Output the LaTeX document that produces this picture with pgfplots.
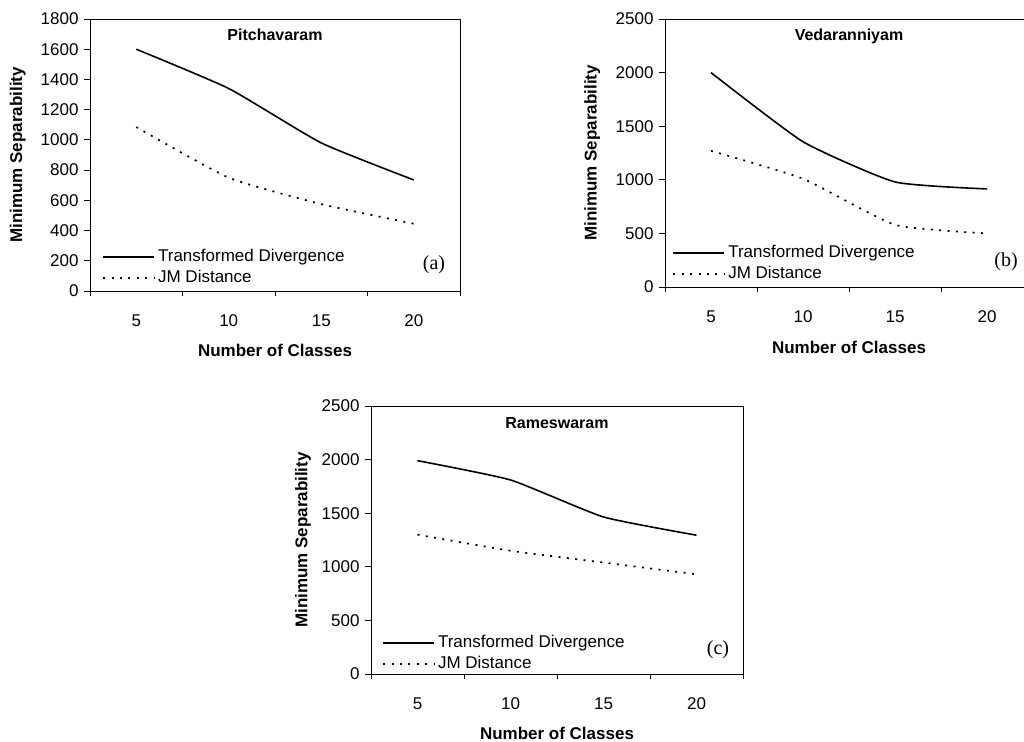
\documentclass[border=0pt]{standalone}
\usepackage{fontspec}
\setmainfont{Liberation Sans}
\newfontfamily\seriffont{Liberation Serif}
\usepackage{pgfplots}
\pgfplotsset{compat=1.18}

\pgfplotsset{
  sepstyle/.style={
    scale only axis,
    anchor=south west,
    xmin=2.5, xmax=22.5,
    xtick={5,10,15,20},
    minor xtick={2.5,7.5,12.5,17.5,22.5},
    major x tick style={draw=none},
    minor x tick style={black, line width=1pt},
    minor tick length=5pt,
    major tick length=6pt,
    ymin=0,
    tick align=outside,
    tick pos=left,
    axis line style={line width=1pt},
    every tick/.style={black, line width=1pt},
    tick label style={font=\fontsize{17}{20}\selectfont},
    yticklabel style={xshift=-2pt},
    /pgf/number format/assume math mode=true,
    /pgf/number format/1000 sep={},
    label style={font=\bfseries\fontsize{17}{20}\selectfont},
    xticklabel style={yshift=-14pt},
    legend style={draw=none, fill=none, font=\fontsize{17}{20}\selectfont,
      anchor=north west, inner sep=0pt, row sep=5pt,
      nodes={inner sep=0pt, text height=12.5pt, text depth=3.5pt},
      /tikz/every odd column/.append style={column sep=3pt}},
    legend cell align=left,
    legend image code/.code={\draw[#1] (0pt,0pt) -- (51pt,0pt);},
  },
  td/.style={black, line width=1.6pt, smooth, tension=0.3},
  jm/.style={black, line width=1.7pt, dash pattern=on 2pt off 6.4pt, smooth, tension=0.3},
}
\tikzset{
  ttl/.style={font=\bfseries\fontsize{16}{19}\selectfont},
  lbl/.style={font=\seriffont\fontsize{20}{23}\selectfont},
}

\begin{document}
\begin{tikzpicture}
\useasboundingbox (0pt,-741pt) rectangle (1024pt,0pt);
\clip (0pt,-741pt) rectangle (1024pt,0pt);

% (a) Pitchavaram
\begin{axis}[sepstyle,
  at={(90pt,-291pt)}, width=370pt, height=272pt,
  ymax=1800, ytick={0,200,...,1800},
  xlabel={Number of Classes}, ylabel={Minimum Separability},
  xlabel style={at={(axis description cs:0.5,-0.217)}, anchor=center},
  ylabel style={at={(axis description cs:-0.195,0.5)}, anchor=center},
  legend style={at={(axis description cs:0.033,0.155)}},
]
\addplot[td] coordinates {(5,1600) (10,1340) (15,980) (20,735)};
\addplot[jm] coordinates {(5,1085) (10,750) (15,575) (20,445)};
\legend{Transformed Divergence, JM Distance}
\node[ttl] at (rel axis cs:0.5,1) [yshift=-16pt] {Pitchavaram};
\node[lbl] at (rel axis cs:1,0) [xshift=-26pt, yshift=26pt] {(a)};
\end{axis}

% (b) Vedaranniyam
\begin{axis}[sepstyle,
  at={(665pt,-287pt)}, width=368pt, height=268pt,
  ymax=2500, ytick={0,500,...,2500},
  xlabel={Number of Classes}, ylabel={Minimum Separability},
  xlabel style={at={(axis description cs:0.5,-0.224)}, anchor=center},
  ylabel style={at={(axis description cs:-0.198,0.5)}, anchor=center},
  legend style={at={(axis description cs:0.02,0.158)}},
]
\addplot[td] coordinates {(5,2000) (10,1355) (15,980) (20,915)};
\addplot[jm] coordinates {(5,1270) (10,1010) (15,580) (20,500)};
\legend{Transformed Divergence, JM Distance}
\node[ttl] at (rel axis cs:0.5,1) [yshift=-17pt] {Vedaranniyam};
\node[lbl] at (rel axis cs:1,0) [xshift=-27pt, yshift=25pt] {(b)};
\end{axis}

% (c) Rameswaram
\begin{axis}[sepstyle,
  at={(371pt,-674pt)}, width=372pt, height=268pt,
  ymax=2500, ytick={0,500,...,2500},
  xlabel={Number of Classes}, ylabel={Minimum Separability},
  xlabel style={at={(axis description cs:0.5,-0.220)}, anchor=center},
  ylabel style={at={(axis description cs:-0.183,0.5)}, anchor=center},
  legend style={at={(axis description cs:0.03,0.146)}},
]
\addplot[td] coordinates {(5,1990) (10,1810) (15,1465) (20,1295)};
\addplot[jm] coordinates {(5,1300) (10,1150) (15,1040) (20,930)};
\legend{Transformed Divergence, JM Distance}
\node[ttl] at (rel axis cs:0.5,1) [yshift=-17pt] {Rameswaram};
\node[lbl] at (rel axis cs:1,0) [xshift=-25pt, yshift=24pt] {(c)};
\end{axis}
\end{tikzpicture}
\end{document}
